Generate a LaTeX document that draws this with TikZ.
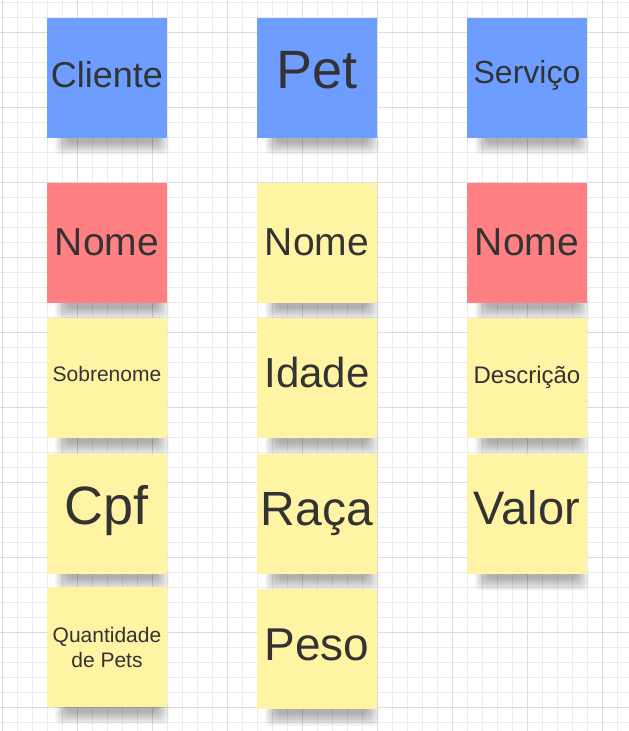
\documentclass[tikz,border=0pt]{standalone}
\usepackage{fontspec}
\setmainfont{Liberation Sans}
\usetikzlibrary{positioning}

\definecolor{noteBlue}{HTML}{6D9EFF}
\definecolor{noteRed}{HTML}{FF8082}
\definecolor{noteYellow}{HTML}{FFF4A3}
\definecolor{inkGray}{HTML}{333333}
\definecolor{gridMinor}{HTML}{EBEBEB}
\definecolor{gridMajor}{HTML}{DCDCDC}

\pgfdeclarelayer{background}
\pgfdeclarelayer{shadow}
\pgfsetlayers{background,shadow,main}

\tikzstyle{note} = [rectangle, minimum size=120pt, inner sep=0pt, text=inkGray, text depth=0pt]
\tikzstyle{entity} = [note, fill=noteBlue]
\tikzstyle{pkey} = [note, fill=noteRed]
\tikzstyle{attr} = [note, fill=noteYellow]
\tikzstyle{gridMin} = [draw=gridMinor, line width=1pt]
\tikzstyle{gridMaj} = [draw=gridMajor, line width=1pt]
\tikzstyle{shadowLayer} = [fill=black, opacity=0.028, rounded corners=6pt]

% soft shadow under a sticky note
\newcommand{\noteshadow}[1]{%
  \foreach \s in {0,...,11} {
    \fill[shadowLayer] ([xshift=8pt+1.1*\s pt, yshift=5pt]#1.south west)
      rectangle ([xshift=2pt-1.1*\s pt, yshift=-17pt+1.1*\s pt]#1.south east);
  }}

\begin{document}
\begin{tikzpicture}[x=1pt, y=-1pt]

   \useasboundingbox (0,0) rectangle (629,731);

   %% Grid
   \begin{pgfonlayer}{background}
   \fill[white] (0,0) rectangle (629,731);
   \foreach \x in {2.7,17.7,...,629} \draw[gridMin] (\x,0) -- (\x,731);
   \foreach \y in {2.3,17.3,...,731} \draw[gridMin] (0,\y) -- (629,\y);
   \foreach \x in {2.7,77.7,...,629} \draw[gridMaj] (\x,0) -- (\x,731);
   \foreach \y in {32.3,107.3,...,731} \draw[gridMaj] (0,\y) -- (629,\y);
   \end{pgfonlayer}

   % Entities
   \node[entity, text height=19pt, font=\fontsize{36}{40}\selectfont] (cliente) at (107,77.5) {Cliente};
   \node[entity, text height=21pt, font=\fontsize{54}{60}\selectfont] (pet) at (317,77.5) {Pet};
   \node[entity, text height=11pt, font=\fontsize{32}{36}\selectfont] (servico) at (527,77.5) {Serviço};

   % Cliente column
   \node[pkey, text height=25pt, font=\fontsize{39}{44}\selectfont] (nomeC) [below=45pt of cliente] {Nome};
   \node[attr, text height=7pt, font=\fontsize{21}{25}\selectfont] (sobrenome) [below=15pt of nomeC] {Sobrenome};
   \node[attr, text height=21pt, font=\fontsize{54}{60}\selectfont] (cpf) [below=15pt of sobrenome] {Cpf};
   \node[attr, text depth=, align=center, yshift=2pt, font=\fontsize{21}{25}\selectfont] (qtdPets) [below=15pt of cpf] {Quantidade\\de Pets};

   % Pet column
   \node[attr, text height=25pt, font=\fontsize{39}{44}\selectfont] (nomeP) [below=45pt of pet] {Nome};
   \node[attr, text height=19pt, font=\fontsize{42}{46}\selectfont] (idade) [below=15pt of nomeP] {Idade};
   \node[attr, text height=23pt, font=\fontsize{48}{52}\selectfont] (raca) [below=15pt of idade] {Raça};
   \node[attr, text height=23pt, font=\fontsize{46}{50}\selectfont] (peso) [below=15pt of raca] {Peso};

   % Servico column
   \node[pkey, text height=25pt, font=\fontsize{39}{44}\selectfont] (nomeS) [below=45pt of servico] {Nome};
   \node[attr, text height=11pt, font=\fontsize{24}{28}\selectfont] (descricao) [below=15pt of nomeS] {Descrição};
   \node[attr, text height=21pt, font=\fontsize{47}{52}\selectfont] (valor) [below=15pt of descricao] {Valor};

   %% Shadows
   \begin{pgfonlayer}{shadow}
   \foreach \n in {cliente,pet,servico,nomeC,sobrenome,cpf,qtdPets,nomeP,idade,raca,peso,nomeS,descricao,valor}
      \noteshadow{\n};
   \end{pgfonlayer}

\end{tikzpicture}
\end{document}
